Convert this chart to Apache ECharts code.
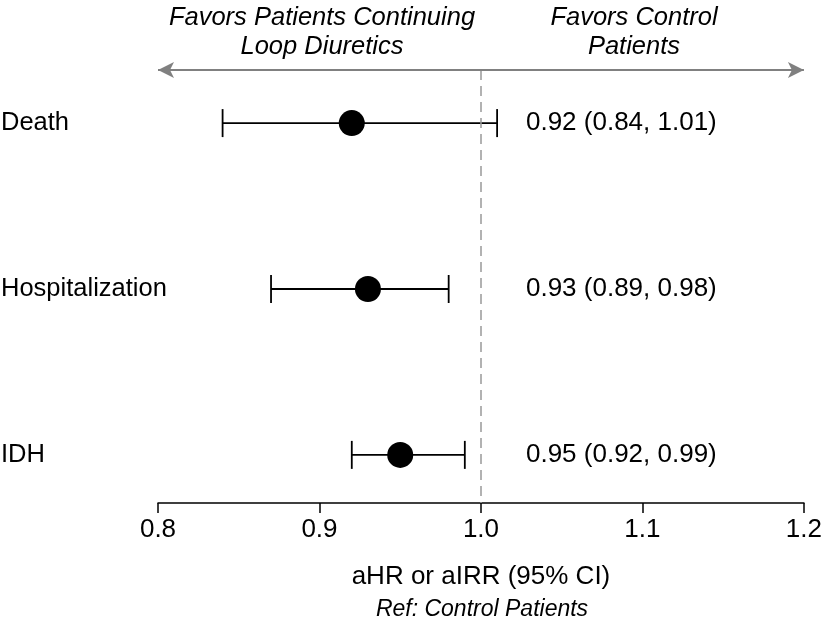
<!DOCTYPE html>
<html>
<head>
<meta charset="utf-8">
<script src="https://cdn.jsdelivr.net/npm/echarts@6/dist/echarts.min.js"></script>
<style>html,body{margin:0;padding:0;background:#fff}#c{width:825px;height:630px}</style>
</head>
<body>
<div id="c"></div>
<script>
const categories = ['Death', 'Hospitalization', 'IDH'];
const estimates = [0.92, 0.93, 0.95];
const lowerCI = [0.84, 0.87, 0.92];      // as drawn in the picture
const upperCI = [1.01, 0.98, 0.99];
const labelLower = [0.84, 0.89, 0.92];   // as printed in the picture
const labelUpper = [1.01, 0.98, 0.99];
const xTicks = [0.8, 0.9, 1.0, 1.1, 1.2];
const leftNote = ['Favors Patients Continuing', 'Loop Diuretics'];
const rightNote = ['Favors Control', 'Patients'];
const axisTitle = 'aHR or aIRR (95% CI)';
const refNote = 'Ref: Control Patients';

const FONT = '"Liberation Sans", Arial, Helvetica, sans-serif';
const chart = echarts.init(document.getElementById('c'), null, {renderer: 'canvas'});

const yMin = -0.32, yMax = 2.29;
const barData = categories.map((c, i) => [i, lowerCI[i], upperCI[i], estimates[i]]);
const dotData = categories.map((c, i) => [estimates[i], i]);

function noteText(x, y, text, size) {
  return {type: 'text', x: x, y: y, style: {text: text, font: 'italic ' + size + 'px ' + FONT, fill: '#000', textAlign: 'center', textVerticalAlign: 'middle'}};
}

const option = {
  animation: false,
  backgroundColor: '#fff',
  grid: {left: 158, right: 20, top: 70, bottom: 127},
  xAxis: {
    type: 'value', min: xTicks[0], max: xTicks[xTicks.length - 1], interval: 0.1,
    position: 'bottom',
    axisLine: {show: true, onZero: false, lineStyle: {color: '#000', width: 1.5}},
    axisTick: {show: true, length: 10, lineStyle: {color: '#000', width: 1.5}},
    splitLine: {show: false},
    axisLabel: {margin: 14, color: '#000', fontSize: 26, fontFamily: FONT,
      formatter: v => v.toFixed(1)},
    name: axisTitle, nameLocation: 'middle', nameGap: 61,
    nameTextStyle: {color: '#000', fontSize: 26, fontFamily: FONT}
  },
  yAxis: {type: 'value', inverse: true, min: yMin, max: yMax, show: false},
  graphic: [
    noteText(322, 18, leftNote[0], 25.5),
    noteText(322, 47, leftNote[1], 25.5),
    noteText(634, 18, rightNote[0], 25.5),
    noteText(634, 47, rightNote[1], 25.5),
    noteText(482, 610, refNote, 23)
  ],
  series: [
    {
      type: 'custom',
      data: barData,
      clip: false,
      renderItem: function (params, api) {
        const idx = api.value(0);
        const lo = api.coord([api.value(1), idx]);
        const hi = api.coord([api.value(2), idx]);
        const ref = api.coord([1.0, idx]);
        const est = api.value(3);
        const h = 14;
        const ls = {stroke: '#000', lineWidth: 1.8};
        const txt = est.toFixed(2) + ' (' + labelLower[idx].toFixed(2) + ', ' + labelUpper[idx].toFixed(2) + ')';
        return {
          type: 'group',
          children: [
            {type: 'line', shape: {x1: lo[0], y1: lo[1], x2: hi[0], y2: hi[1]}, style: ls},
            {type: 'line', shape: {x1: lo[0], y1: lo[1] - h, x2: lo[0], y2: lo[1] + h}, style: ls},
            {type: 'line', shape: {x1: hi[0], y1: hi[1] - h, x2: hi[0], y2: hi[1] + h}, style: ls},
            {type: 'text', style: {x: 1, y: lo[1], text: categories[idx], font: '25.5px ' + FONT, fill: '#000', textAlign: 'left', textVerticalAlign: 'middle'}},
            {type: 'text', style: {x: ref[0] + 45, y: lo[1], text: txt, font: '26px ' + FONT, fill: '#000', textAlign: 'left', textVerticalAlign: 'middle'}}
          ]
        };
      },
      z: 3
    },
    {
      type: 'scatter',
      data: dotData,
      symbol: 'circle',
      symbolSize: 26,
      itemStyle: {color: '#000', opacity: 1},
      z: 4
    },
    {
      type: 'scatter', data: [], silent: true,
      markLine: {
        silent: true, animation: false,
        symbol: ['none', 'none'],
        label: {show: false},
        lineStyle: {color: '#999', type: [10, 6], width: 1.5},
        data: [{xAxis: 1.0}]
      }
    },
    {
      type: 'scatter', data: [], silent: true,
      markLine: {
        silent: true, animation: false,
        symbol: ['arrow', 'arrow'], symbolSize: [12, 16],
        label: {show: false},
        lineStyle: {color: '#808080', type: 'solid', width: 2},
        data: [[{coord: [xTicks[0], yMin]}, {coord: [xTicks[xTicks.length - 1], yMin]}]]
      }
    }
  ]
};
chart.setOption(option);
</script>
</body>
</html>
